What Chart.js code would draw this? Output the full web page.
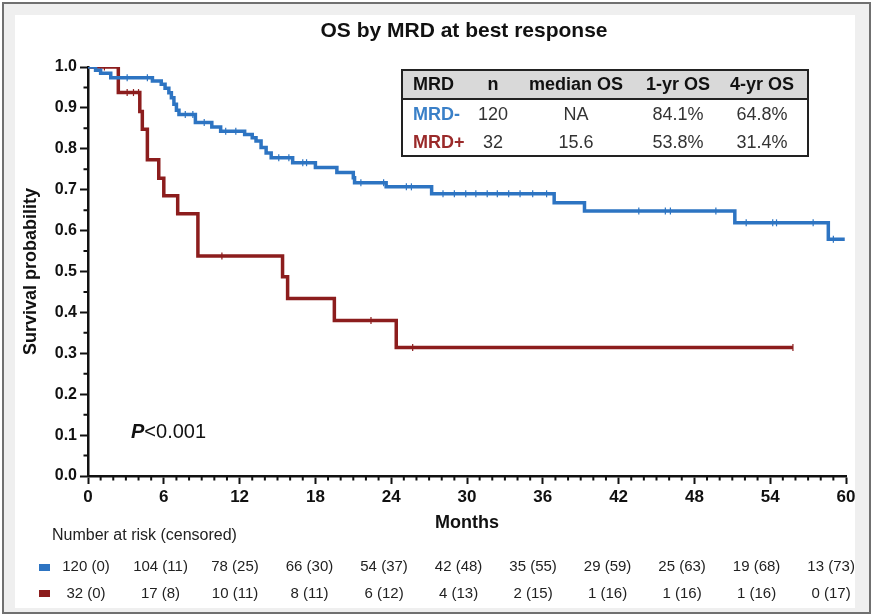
<!DOCTYPE html>
<html>
<head>
<meta charset="utf-8">
<title>OS by MRD at best response</title>
<script src="https://cdn.jsdelivr.net/npm/chart.js@4.4.0/dist/chart.umd.min.js"></script>
<style>
  body { margin: 0; background: #fff; }
  #frame { position: absolute; left: 2px; top: 2px; width: 865px; height: 608px; border: 2px solid #707070; background: #efefef; }
  #inner { position: absolute; left: 11px; top: 11px; width: 840px; height: 593px; background: #fff; }
  #km { position: absolute; left: 0; top: 0; }
</style>
</head>
<body>
<div id="frame"><div id="inner"></div></div>
<canvas id="km" width="873" height="615"></canvas>
<script>
// MRD- curve (month, survival after the drop)
const negTimes = [0, 0.6, 1.0, 1.8, 5.1, 5.8, 6.1, 6.4, 6.6, 6.8, 7.0, 7.2, 8.5, 9.8, 10.5, 12.4, 13.0, 13.3, 13.7, 14.1, 14.5, 16.2, 18.0, 19.7, 21.0, 21.1, 23.6, 27.2, 36.9, 39.3, 51.2, 58.6, 59.9];
const negSurv = [1.0, 0.992, 0.985, 0.974, 0.966, 0.958, 0.948, 0.937, 0.925, 0.909, 0.894, 0.884, 0.864, 0.853, 0.843, 0.835, 0.827, 0.819, 0.803, 0.790, 0.778, 0.766, 0.754, 0.742, 0.729, 0.717, 0.707, 0.690, 0.668, 0.648, 0.619, 0.579, 0.579];
const negCensor = [3.1, 4.7, 7.7, 8.3, 9.2, 10.9, 11.7, 15.1, 15.9, 17.0, 17.3, 21.6, 23.4, 25.2, 25.6, 28.1, 29.0, 29.9, 30.7, 31.6, 32.4, 33.3, 34.2, 35.2, 36.3, 43.6, 45.7, 46.1, 49.7, 52.1, 54.2, 54.5, 57.4, 59.0];

// MRD+ curve
const posTimes = [0, 2.4, 4.1, 4.3, 4.7, 5.6, 6.0, 7.1, 8.7, 15.4, 15.8, 19.5, 24.4, 55.8];
const posSurv = [1.0, 0.9375, 0.891, 0.848, 0.773, 0.728, 0.685, 0.641, 0.538, 0.487, 0.434, 0.380, 0.314, 0.314];
const posCensor = [1.0, 1.3, 3.1, 3.6, 4.0, 10.6, 22.4, 25.7, 55.8];

// summary table
const tableHeader = ["MRD", "n", "median OS", "1-yr OS", "4-yr OS"];
const tableGroups = ["MRD-", "MRD+"];
const tableN = ["120", "32"];
const tableMedian = ["NA", "15.6"];
const tableOS1 = ["84.1%", "53.8%"];
const tableOS4 = ["64.8%", "31.4%"];

// number at risk (censored)
const riskMonths = [0, 6, 12, 18, 24, 30, 36, 42, 48, 54, 60];
const riskNeg = ["120 (0)", "104 (11)", "78 (25)", "66 (30)", "54 (37)", "42 (48)", "35 (55)", "29 (59)", "25 (63)", "19 (68)", "13 (73)"];
const riskPos = ["32 (0)", "17 (8)", "10 (11)", "8 (11)", "6 (12)", "4 (13)", "2 (15)", "1 (16)", "1 (16)", "1 (16)", "0 (17)"];

const blue = "#2d74c2";
const red = "#8c1d1d";
const font = "'Liberation Sans', Arial, sans-serif";

function points(times, surv) {
  return times.map((t, i) => ({ x: t, y: surv[i] }));
}

// value of the step curve at a censoring time
function censorPoints(cTimes, times, surv) {
  return cTimes.map(t => {
    let k = 0;
    for (let i = 0; i < times.length; i++) if (times[i] <= t) k = i;
    return { x: t, y: surv[k] };
  });
}

const extras = {
  id: "extras",
  afterDraw(chart) {
    const c = chart.ctx;
    const xs = chart.scales.x, ys = chart.scales.y;
    const area = chart.chartArea;
    c.save();

    // minor ticks
    c.strokeStyle = "#111";
    c.lineWidth = 2;
    c.beginPath();
    for (let m = 1; m < 60; m++) {
      if (m % 6 === 0) continue;
      const px = xs.getPixelForValue(m);
      c.moveTo(px, area.bottom);
      c.lineTo(px, area.bottom + 4.5);
    }
    for (let v = 0.05; v < 1; v += 0.1) {
      const py = ys.getPixelForValue(v);
      c.moveTo(area.left - 4.5, py);
      c.lineTo(area.left, py);
    }
    c.stroke();

    // title
    c.fillStyle = "#111";
    c.font = "bold 21px " + font;
    c.textAlign = "center";
    c.textBaseline = "middle";
    c.fillText("OS by MRD at best response", 464, 31);

    // summary table
    c.fillStyle = "#d9d9d9";
    c.fillRect(402, 70, 406, 29);
    c.strokeStyle = "#222";
    c.lineWidth = 2;
    c.strokeRect(402, 70, 406, 86);
    c.beginPath();
    c.moveTo(402, 99);
    c.lineTo(808, 99);
    c.stroke();
    const colX = [413, 493, 576, 678, 762];
    c.font = "bold 18px " + font;
    c.fillStyle = "#111";
    tableHeader.forEach((h, i) => {
      c.textAlign = i === 0 ? "left" : "center";
      c.fillText(h, colX[i], 85);
    });
    const rowY = [115, 143];
    const rowCol = ["#3a80c8", "#9a2a2a"];
    tableGroups.forEach((g, r) => {
      c.font = "bold 18px " + font;
      c.fillStyle = rowCol[r];
      c.textAlign = "left";
      c.fillText(g, colX[0], rowY[r]);
      c.font = "18px " + font;
      c.fillStyle = "#333";
      c.textAlign = "center";
      [tableN[r], tableMedian[r], tableOS1[r], tableOS4[r]].forEach((t, i) => c.fillText(t, colX[i + 1], rowY[r]));
    });

    // P value
    c.textAlign = "left";
    c.fillStyle = "#111";
    c.font = "italic bold 20px " + font;
    c.fillText("P", 131, 432);
    const pw = c.measureText("P").width;
    c.font = "20px " + font;
    c.fillText("<0.001", 131 + pw, 432);

    // number at risk
    c.font = "16px " + font;
    c.fillStyle = "#222";
    c.fillText("Number at risk (censored)", 52, 536);
    c.fillStyle = blue;
    c.fillRect(39, 564, 11, 7);
    c.fillStyle = red;
    c.fillRect(39, 590, 11, 7);
    c.font = "15px " + font;
    c.fillStyle = "#222";
    c.textAlign = "center";
    riskMonths.forEach((m, i) => {
      const px = 86 + (xs.getPixelForValue(m) - area.left) * 0.983;
      c.fillText(riskNeg[i], px, 567);
      c.fillText(riskPos[i], px, 594);
    });
    c.restore();
  }
};

new Chart(document.getElementById("km"), {
  type: "line",
  data: {
    datasets: [
      { data: points(negTimes, negSurv), borderColor: blue, borderWidth: 3.5, stepped: "before", pointRadius: 0 },
      { data: points(posTimes, posSurv), borderColor: red, borderWidth: 3.5, stepped: "before", pointRadius: 0 },
      { data: censorPoints(negCensor, negTimes, negSurv), showLine: false, pointStyle: "line", pointRotation: 90,
        pointRadius: 3.5, pointBorderWidth: 1.2, pointBorderColor: blue },
      { data: censorPoints(posCensor, posTimes, posSurv), showLine: false, pointStyle: "line", pointRotation: 90,
        pointRadius: 3.5, pointBorderWidth: 1.2, pointBorderColor: red }
    ]
  },
  options: {
    responsive: false,
    animation: false,
    events: [],
    layout: { padding: { left: 14, right: 27, top: 67, bottom: 79 } },
    plugins: { legend: { display: false }, tooltip: { enabled: false } },
    scales: {
      x: {
        type: "linear", min: 0, max: 60,
        ticks: { stepSize: 6, color: "#111", padding: 3, maxRotation: 0, font: { family: font, size: 17, weight: "bold" } },
        grid: { drawOnChartArea: false, tickLength: 8, tickWidth: 2, tickColor: "#111" },
        border: { color: "#111", width: 2.5 },
        title: { display: true, text: "Months", color: "#111", padding: { top: 0, bottom: 2 }, font: { family: font, size: 18, weight: "bold" } },
        afterFit: s => { s.height = 60; }
      },
      y: {
        min: 0, max: 1,
        ticks: { stepSize: 0.1, color: "#111", padding: 3, font: { family: font, size: 16, weight: "bold" }, callback: v => v.toFixed(1) },
        grid: { drawOnChartArea: false, tickLength: 8, tickWidth: 2, tickColor: "#111" },
        border: { color: "#111", width: 2.5 },
        title: { display: true, text: "Survival probability", color: "#111", padding: { top: 6, bottom: 0 }, font: { family: font, size: 18, weight: "bold" } },
        afterFit: s => { s.width = 74; }
      }
    }
  },
  plugins: [extras]
});
</script>
</body>
</html>
